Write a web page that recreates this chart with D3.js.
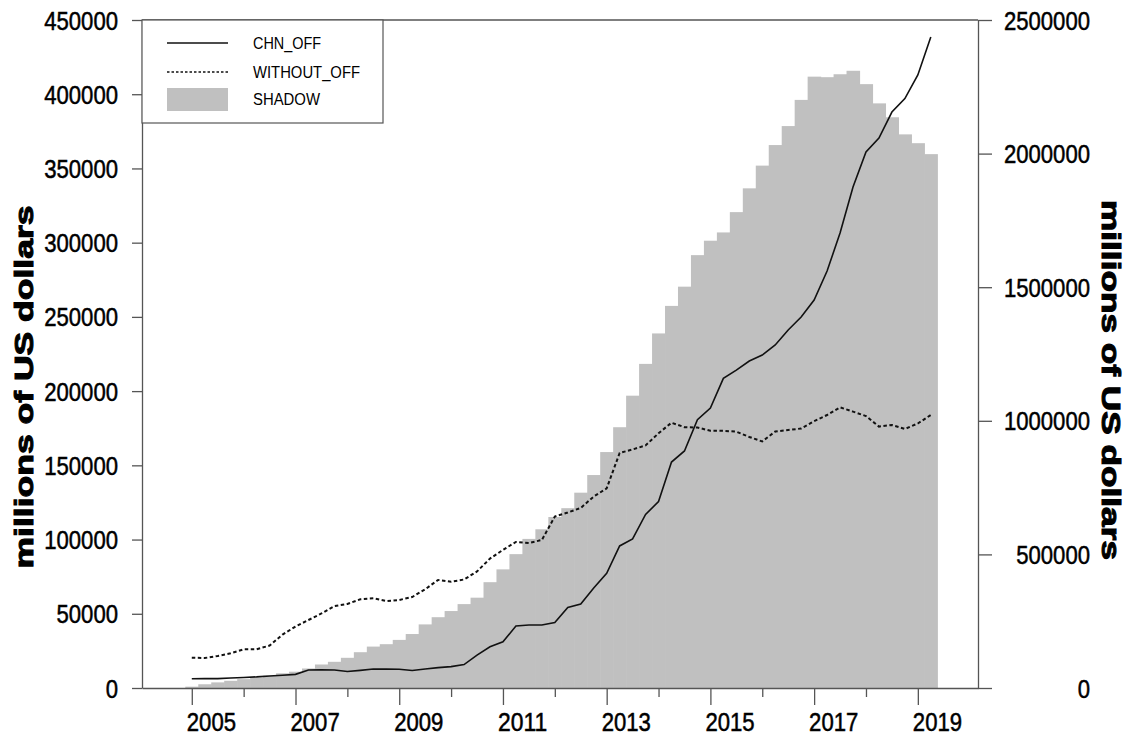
<!DOCTYPE html>
<html>
<head>
<meta charset="utf-8">
<script src="https://cdn.jsdelivr.net/npm/d3@7"></script>
<style>
  html, body { margin: 0; padding: 0; background: #fff; }
  svg { display: block; font-family: "Liberation Sans", Arial, sans-serif; }
</style>
</head>
<body>
<svg id="chart" width="1128" height="740"></svg>
<script>
// quarterly series, first point = 2005 Q1
var firstYear = 2005
var yearTicks = [2005, 2006, 2007, 2008, 2009, 2010, 2011, 2012, 2013, 2014, 2015, 2016, 2017, 2018, 2019]
var leftTicks = [0, 50000, 100000, 150000, 200000, 250000, 300000, 350000, 400000, 450000]
var rightTicks = [0, 500000, 1000000, 1500000, 2000000, 2500000]

var shadow = [5000, 14000, 21000, 27000, 33000, 39000, 46000, 55000, 61000, 73000,
  88000, 98000, 113000, 134000, 155000, 164000, 180000, 202000, 238000, 265000,
  288000, 314000, 338000, 396000, 444000, 501000, 558000, 594000, 640000, 673000,
  731000, 797000, 883000, 976000, 1094000, 1213000, 1327000, 1430000, 1502000, 1620000,
  1674000, 1705000, 1781000, 1870000, 1955000, 2032000, 2103000, 2201000, 2288000, 2286000,
  2297000, 2310000, 2260000, 2188000, 2136000, 2072000, 2039000, 1998000]

var chnOff = [6200, 6300, 6300, 6700, 7100, 7500, 8100, 8600, 9200, 12100,
  12300, 12100, 11100, 11900, 12800, 12700, 12600, 11800, 12800, 13700,
  14400, 15800, 22200, 27800, 31100, 41800, 42400, 42400, 44100, 54200,
  56600, 67400, 77300, 95700, 100400, 116900, 125600, 152200, 159700, 180700,
  188600, 208600, 214100, 220300, 224300, 231100, 241200, 249900, 261400, 280900,
  306500, 337500, 361100, 370500, 388000, 397100, 413000, 438500]

var withoutOff = [20400, 20200, 21600, 23400, 26100, 26100, 28600, 36000, 41400, 45800,
  50200, 55200, 56600, 59800, 60400, 58600, 59300, 61300, 66500, 72800,
  71600, 73100, 78500, 87200, 93000, 98400, 97700, 99700, 115500, 118200,
  121300, 129000, 134500, 158300, 160700, 163400, 171600, 178700, 175700, 175500,
  173300, 173300, 172700, 169100, 166100, 172800, 173800, 174800, 179700, 183900,
  189100, 186200, 183200, 176100, 177200, 174500, 178200, 183900]

var legendItems = ['CHN_OFF', 'WITHOUT_OFF', 'SHADOW']

var rows = shadow.map(function(v, i) {
  return { t: firstYear + i / 4, shadow: v, chn: chnOff[i], without: withoutOff[i] }
})

var margin = { top: 20, right: 150, bottom: 52, left: 142 }
var W = 1128, H = 740
var width = W - margin.left - margin.right
var height = H - margin.top - margin.bottom

var svg = d3.select('#chart')
var g = svg.append('g')
  .attr('transform', 'translate(' + margin.left + ',' + margin.top + ')')

var x = d3.scaleLinear().domain([2004.04, 2020.16]).range([0, width])
var yLeft = d3.scaleLinear().domain([0, 450000]).range([height, 0])
var yRight = d3.scaleLinear().domain([0, 2500000]).range([height, 0])

var digitW = 12.3

// shadow bars (right axis), one per quarter, no gaps
g.append('g')
  .selectAll('rect')
  .data(rows)
  .enter().append('rect')
  .attr('x', function(d) { return x(d.t - 0.125) })
  .attr('width', function(d) { return x(d.t + 0.125) - x(d.t - 0.125) + 0.6 })
  .attr('y', function(d) { return yRight(d.shadow) })
  .attr('height', function(d) { return yRight(0) - yRight(d.shadow) })
  .attr('fill', '#c0c0c0')

var lineChn = d3.line()
  .x(function(d) { return x(d.t) })
  .y(function(d) { return yLeft(d.chn) })

var lineWithout = d3.line()
  .x(function(d) { return x(d.t) })
  .y(function(d) { return yLeft(d.without) })

g.append('path')
  .datum(rows)
  .attr('d', lineWithout)
  .attr('fill', 'none')
  .attr('stroke', '#111')
  .attr('stroke-width', 2)
  .attr('stroke-dasharray', '3.5,2.5')

g.append('path')
  .datum(rows)
  .attr('d', lineChn)
  .attr('fill', 'none')
  .attr('stroke', '#111')
  .attr('stroke-width', 1.6)

// axes
function styleAxis(sel) {
  sel.selectAll('path, line').attr('stroke', '#555').attr('stroke-width', 1.3)
  sel.selectAll('text')
    .attr('fill', '#000')
    .attr('stroke', '#000')
    .attr('stroke-width', 0.5)
    .style('font-size', '25px')
    .attr('textLength', function() { return this.textContent.length * digitW })
    .attr('lengthAdjust', 'spacingAndGlyphs')
}

var leftAxis = g.append('g')
  .call(d3.axisLeft(yLeft).tickValues(leftTicks).tickFormat(d3.format('d'))
    .tickSize(10).tickSizeOuter(0).tickPadding(14))
leftAxis.call(styleAxis)
leftAxis.selectAll('text').attr('dy', '0.36em')

var rightAxis = g.append('g')
  .attr('transform', 'translate(' + width + ',0)')
  .call(d3.axisRight(yRight).tickValues(rightTicks).tickFormat(d3.format('d'))
    .tickSize(14).tickSizeOuter(0))
rightAxis.call(styleAxis)
rightAxis.selectAll('text')
  .attr('text-anchor', 'end')
  .attr('x', 112)
  .attr('dy', '0.36em')

var bottomAxis = g.append('g')
  .attr('transform', 'translate(0,' + height + ')')
  .call(d3.axisBottom(x).tickValues(yearTicks)
    .tickFormat(function(d) { return d % 2 === 1 ? String(d) : '' })
    .tickSize(17).tickSizeOuter(0))
bottomAxis.call(styleAxis)
bottomAxis.selectAll('.tick line')
  .attr('y2', function(d) { return d % 2 === 1 ? 17 : 9 })
bottomAxis.selectAll('text')
  .attr('text-anchor', 'start')
  .attr('x', -5.5)
  .attr('y', 43)
  .attr('dy', 0)

// top frame line
g.append('line')
  .attr('x1', 0).attr('x2', width)
  .attr('y1', 0).attr('y2', 0)
  .attr('stroke', '#555').attr('stroke-width', 1.3)

// axis titles
svg.append('text')
  .attr('transform', 'translate(33,387) rotate(-90)')
  .attr('text-anchor', 'middle')
  .style('font-size', '26px')
  .style('font-weight', 'bold')
  .attr('stroke', '#000')
  .attr('stroke-width', 1)
  .attr('textLength', 363)
  .attr('lengthAdjust', 'spacingAndGlyphs')
  .text('millions of US dollars')

svg.append('text')
  .attr('transform', 'translate(1102,380) rotate(90)')
  .attr('text-anchor', 'middle')
  .style('font-size', '26px')
  .style('font-weight', 'bold')
  .attr('stroke', '#000')
  .attr('stroke-width', 1)
  .attr('textLength', 360)
  .attr('lengthAdjust', 'spacingAndGlyphs')
  .text('millions of US dollars')

// legend box
var legend = g.append('g')
legend.append('rect')
  .attr('x', 0).attr('y', 0)
  .attr('width', 241).attr('height', 103)
  .attr('fill', '#fff')
  .attr('stroke', '#555')
  .attr('stroke-width', 1.2)

legend.append('line')
  .attr('x1', 25).attr('x2', 86).attr('y1', 23).attr('y2', 23)
  .attr('stroke', '#111').attr('stroke-width', 1.6)
legend.append('line')
  .attr('x1', 25).attr('x2', 86).attr('y1', 52).attr('y2', 52)
  .attr('stroke', '#111').attr('stroke-width', 1.6)
  .attr('stroke-dasharray', '2.5,2')
legend.append('rect')
  .attr('x', 25).attr('y', 68).attr('width', 61).attr('height', 23)
  .attr('fill', '#c0c0c0')

var legendW = [68, 107, 67]
var legendY = [23, 52, 79]
legend.selectAll('text.leg')
  .data(legendItems)
  .enter().append('text')
  .attr('class', 'leg')
  .attr('x', 111)
  .attr('y', function(d, i) { return legendY[i] })
  .attr('dy', '0.35em')
  .style('font-size', '16px')
  .attr('textLength', function(d, i) { return legendW[i] })
  .attr('lengthAdjust', 'spacingAndGlyphs')
  .text(function(d) { return d })
</script>
</body>
</html>
